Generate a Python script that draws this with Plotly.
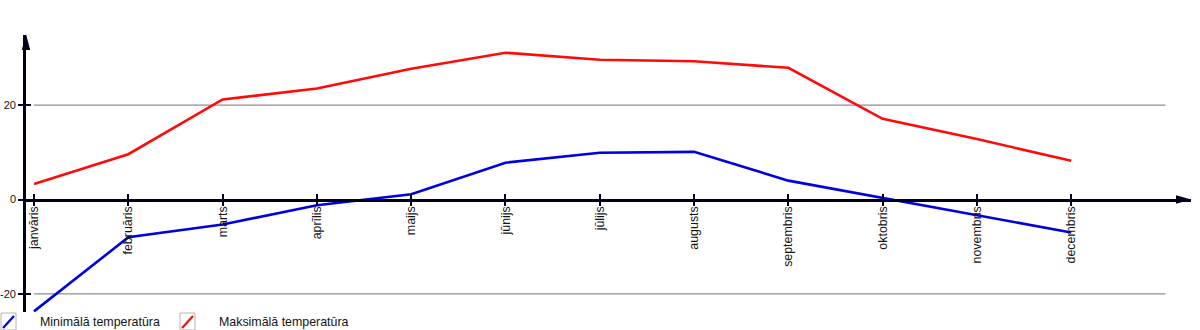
import plotly.graph_objects as go

# Monthly temperature data
months = ["janvāris", "februāris", "marts", "aprīlis", "maijs", "jūnijs",
          "jūlijs", "augusts", "septembris", "oktobris", "novembris", "decembris"]
temp_min = [-23.7, -8.0, -5.3, -1.2, 1.1, 7.8, 9.9, 10.1, 4.0, 0.3, -3.3, -7.0]
temp_max = [3.3, 9.6, 21.2, 23.5, 27.7, 31.1, 29.6, 29.3, 27.9, 17.1, 12.8, 8.2]
series_names = ["Minimālā temperatūra", "Maksimālā temperatūra"]
y_ticks = [-20, 0, 20]
y_tick_labels = ["-20", "0", "20"]
grid_values = [20, -20]

# Styling
FONT = "Liberation Sans, Arial, sans-serif"
FONT_SIZE = 12.4
Y_TICK_SIZE = 11
AXIS_COLOR = "#000016"
TEXT_COLOR = "#141414"
BLUE = "#0000e0"
RED = "#ff0a0a"
GRID_COLORS = {20: "#9c8890", -20: "#8e8e8e"}

x_range = [-0.085, 12.27]
y_range = [-23.83, 34.85]
zero_pos = (0 - y_range[0]) / (y_range[1] - y_range[0])

fig = go.Figure()

fig.add_trace(go.Scatter(x=months, y=temp_min, name=series_names[0], mode="lines",
                         line=dict(color=BLUE, width=2.6), showlegend=False))
fig.add_trace(go.Scatter(x=months, y=temp_max, name=series_names[1], mode="lines",
                         line=dict(color=RED, width=2.6), showlegend=False))
# carrier trace for the overlaid tick axes (the other half of each crossing tick)
fig.add_trace(go.Scatter(x=months, y=temp_max, xaxis="x2", yaxis="y2", mode="lines",
                         line=dict(width=0), opacity=0, hoverinfo="skip", showlegend=False))

shapes = []
# horizontal reference lines at +-20, spanning the month slots
for gv in grid_values:
    shapes.append(dict(type="line", xref="x", yref="y", x0=0, x1=len(months), y0=gv, y1=gv,
                       line=dict(color=GRID_COLORS[gv], width=1.3), layer="below"))

# arrow heads at the ends of both axes
shapes.append(dict(type="path", xref="paper", yref="paper", xsizemode="pixel", ysizemode="pixel",
                   xanchor=0, yanchor=1, path="M0,1 L-4.2,-15 L4.2,-15 Z",
                   fillcolor=AXIS_COLOR, line=dict(width=0)))
shapes.append(dict(type="path", xref="paper", yref="y", xsizemode="pixel", ysizemode="pixel",
                   xanchor=1, yanchor=0, path="M0,0 L-15,4.2 L-15,-4.2 Z",
                   fillcolor=AXIS_COLOR, line=dict(width=0)))

# hand-drawn legend icons: framed box with a diagonal stroke
legend_items = [(series_names[0], BLUE, -25), (series_names[1], RED, 154)]
annotations = []
for name, color, x_off in legend_items:
    shapes.append(dict(type="rect", xref="paper", yref="paper", xsizemode="pixel", ysizemode="pixel",
                       xanchor=0, yanchor=0, x0=x_off, x1=x_off + 15, y0=-1, y1=-18,
                       line=dict(color="#b4b4b4", width=1), fillcolor="white"))
    shapes.append(dict(type="line", xref="paper", yref="paper", xsizemode="pixel", ysizemode="pixel",
                       xanchor=0, yanchor=0, x0=x_off + 2, x1=x_off + 13, y0=-16, y1=-4,
                       line=dict(color=color, width=2.2)))
    annotations.append(dict(text=name, xref="paper", yref="paper", x=0, y=0,
                            xshift=x_off + 37, yshift=-10, xanchor="left", yanchor="middle",
                            showarrow=False, font=dict(family=FONT, size=FONT_SIZE, color=TEXT_COLOR)))

fig.update_layout(
    width=1200, height=330,
    margin=dict(l=26, r=9, t=35, b=18, autoexpand=False),
    paper_bgcolor="white", plot_bgcolor="white",
    font=dict(family=FONT, size=FONT_SIZE, color=TEXT_COLOR),
    showlegend=False,
    xaxis=dict(type="category", range=x_range, anchor="free", position=zero_pos, automargin=False,
               showline=True, linecolor=AXIS_COLOR, linewidth=2.6,
               ticks="inside", ticklen=5, tickwidth=2, tickcolor=AXIS_COLOR,
               tickangle=-90, showgrid=False, zeroline=False,
               tickfont=dict(family=FONT, size=FONT_SIZE, color=TEXT_COLOR)),
    xaxis2=dict(type="category", range=x_range, overlaying="x", anchor="free", position=zero_pos,
                automargin=False, showline=False, ticks="outside", ticklen=5, tickwidth=2,
                tickcolor=AXIS_COLOR, showticklabels=False, showgrid=False, zeroline=False),
    yaxis=dict(range=y_range, tickmode="array", tickvals=y_ticks, ticktext=y_tick_labels,
               automargin=False, showline=True, linecolor=AXIS_COLOR, linewidth=2.6,
               ticks="outside", ticklen=5, tickwidth=2, tickcolor=AXIS_COLOR,
               showgrid=False, zeroline=False,
               tickfont=dict(family=FONT, size=Y_TICK_SIZE, color=TEXT_COLOR)),
    yaxis2=dict(range=y_range, tickvals=y_ticks, overlaying="y", anchor="x", side="left",
                automargin=False, showline=False, ticks="inside", ticklen=5, tickwidth=2,
                tickcolor=AXIS_COLOR, showticklabels=False, showgrid=False, zeroline=False),
    shapes=shapes,
    annotations=annotations,
)

fig.write_html("out.html")
